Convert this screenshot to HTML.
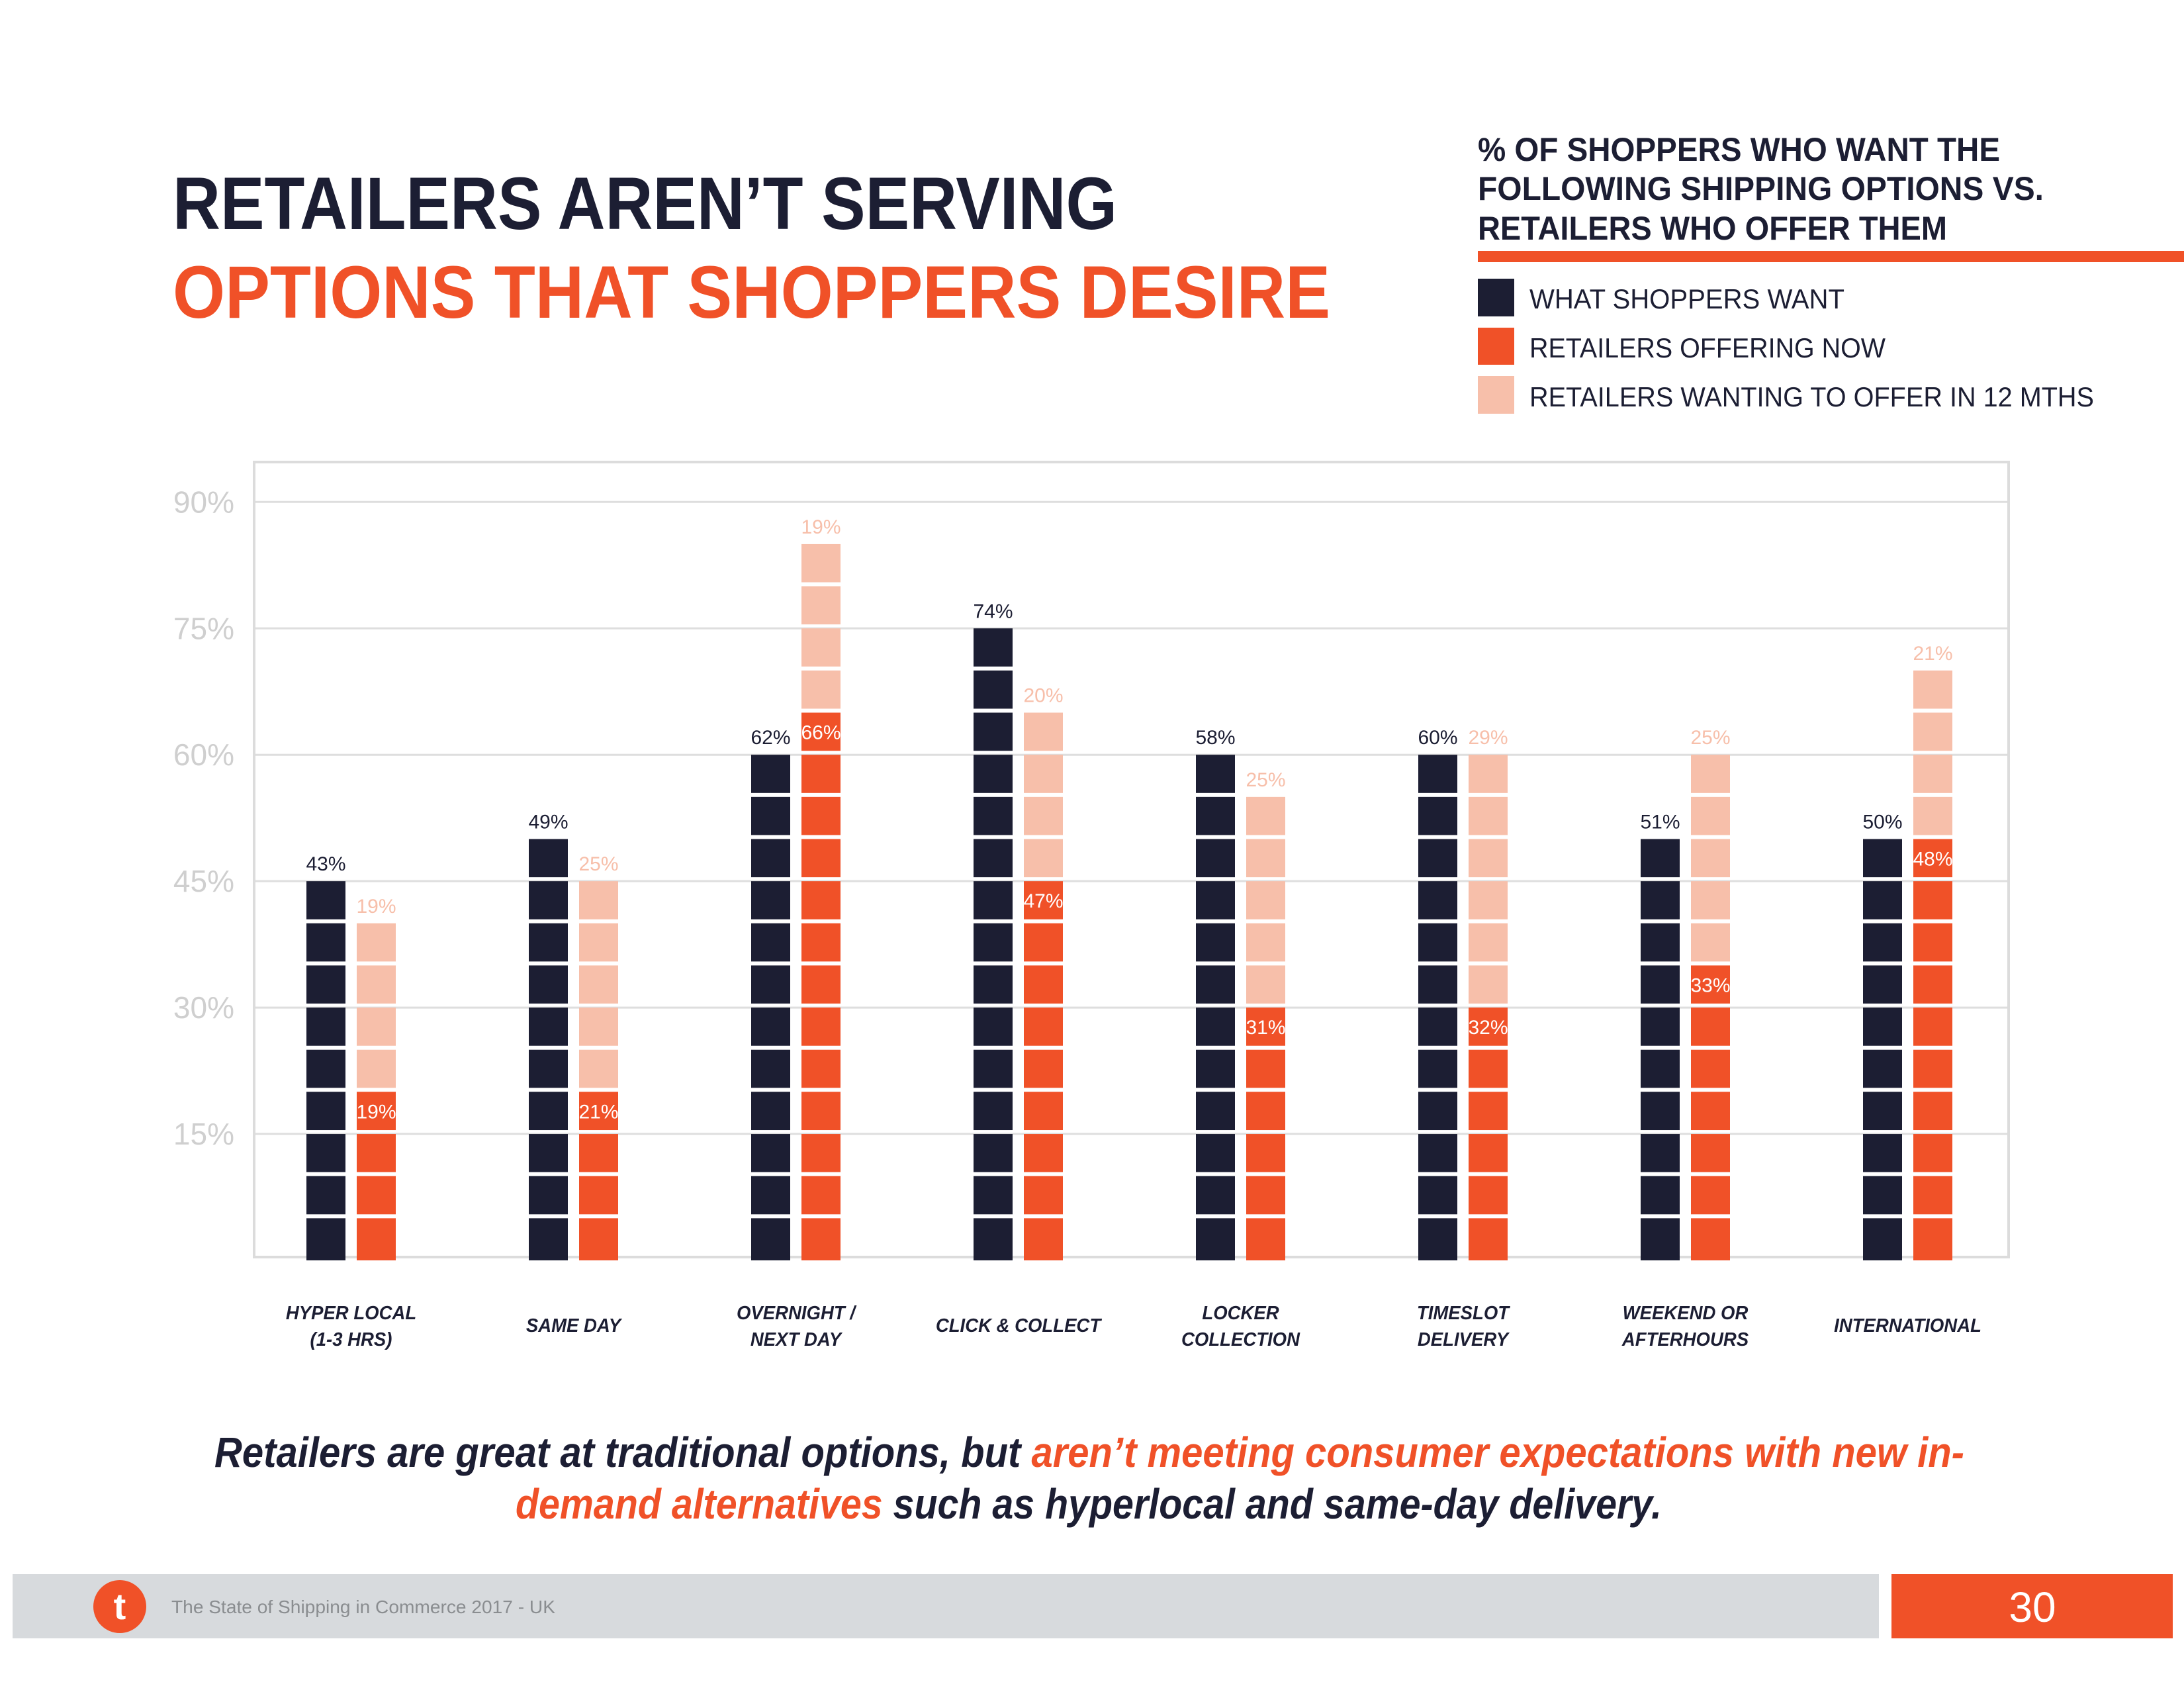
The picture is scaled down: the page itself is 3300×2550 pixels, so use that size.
<!DOCTYPE html>
<html><head><meta charset="utf-8"><style>
html,body{margin:0;padding:0;background:#fff;}
svg{display:block;}
text{font-family:"Liberation Sans",sans-serif;}
</style></head><body>
<svg id="s" width="3300" height="2550" viewBox="0 0 3300 2550" xmlns="http://www.w3.org/2000/svg">
<text x="261" y="346" font-size="112" font-weight="bold" fill="#1c1e33" textLength="1427" lengthAdjust="spacingAndGlyphs">RETAILERS AREN’T SERVING</text>
<text x="261" y="480" font-size="112" font-weight="bold" fill="#f05128" textLength="1749" lengthAdjust="spacingAndGlyphs">OPTIONS THAT SHOPPERS DESIRE</text>
<g>
<text x="2233" y="243" font-size="50" font-weight="bold" fill="#1c1e33" textLength="789" lengthAdjust="spacingAndGlyphs">% OF SHOPPERS WHO WANT THE</text>
<text x="2233" y="302" font-size="50" font-weight="bold" fill="#1c1e33" textLength="855" lengthAdjust="spacingAndGlyphs">FOLLOWING SHIPPING OPTIONS VS.</text>
<text x="2233" y="362" font-size="50" font-weight="bold" fill="#1c1e33" textLength="709" lengthAdjust="spacingAndGlyphs">RETAILERS WHO OFFER THEM</text>
<rect x="2233" y="379" width="1067" height="17" fill="#f05128"/>
<rect x="2233" y="421" width="55" height="57" fill="#1c1e33"/>
<text x="2311" y="466" font-size="42" fill="#1c1e33" textLength="476" lengthAdjust="spacingAndGlyphs">WHAT SHOPPERS WANT</text>
<rect x="2233" y="495" width="55" height="56" fill="#f05128"/>
<text x="2311" y="540" font-size="42" fill="#1c1e33" textLength="538" lengthAdjust="spacingAndGlyphs">RETAILERS OFFERING NOW</text>
<rect x="2233" y="568" width="55" height="57" fill="#f7bfaa"/>
<text x="2311" y="614" font-size="42" fill="#1c1e33" textLength="853" lengthAdjust="spacingAndGlyphs">RETAILERS WANTING TO OFFER IN 12 MTHS</text>
</g>
<rect x="384" y="698" width="2651" height="1201" fill="none" stroke="#dcdcdc" stroke-width="4"/>
<g id="chart"></g>
<text x="1646" y="2216" font-size="64" font-weight="bold" font-style="italic" text-anchor="middle" fill="#1c1e33" textLength="2644" lengthAdjust="spacingAndGlyphs">Retailers are great at traditional options, but <tspan fill="#f05128">aren’t meeting consumer expectations with new in-</tspan></text>
<text x="1645" y="2294" font-size="64" font-weight="bold" font-style="italic" text-anchor="middle" fill="#1c1e33" textLength="1732" lengthAdjust="spacingAndGlyphs"><tspan fill="#f05128">demand alternatives</tspan> such as hyperlocal and same-day delivery.</text>
<rect x="19" y="2378" width="2820" height="97" fill="#d7dadd"/>
<circle cx="181" cy="2427" r="40" fill="#f05128"/>
<text x="181" y="2446" font-size="56" font-weight="bold" fill="#fff" text-anchor="middle">t</text>
<text x="259" y="2437" font-size="28" fill="#8a8d90" textLength="580" lengthAdjust="spacingAndGlyphs">The State of Shipping in Commerce 2017 - UK</text>
<rect x="2858" y="2378" width="425" height="97" fill="#f05128"/>
<text x="3071" y="2450" font-size="64" fill="#fff" text-anchor="middle">30</text>
</svg>
<script>
const categories = [["HYPER LOCAL","(1-3 HRS)"],["SAME DAY"],["OVERNIGHT /","NEXT DAY"],["CLICK & COLLECT"],["LOCKER","COLLECTION"],["TIMESLOT","DELIVERY"],["WEEKEND OR","AFTERHOURS"],["INTERNATIONAL"]];
const wantValues = [43,49,62,74,58,60,51,50];
const offeringValues = [19,21,66,47,31,32,33,48];
const plannedValues = [19,25,19,20,25,29,25,21];
const yTicks = [15,30,45,60,75,90];

const NS="http://www.w3.org/2000/svg";
const g=document.getElementById('chart');
const y0=1904, pxPer=12.73;
const yS=v=>y0-v*pxPer;
const groupX=i=>463+i*336;
const BW=59, OFF=76, GAP=6;
function mk(tag,attrs,parent){const e=document.createElementNS(NS,tag);for(const k in attrs)e.setAttribute(k,attrs[k]);(parent||g).appendChild(e);return e;}

yTicks.forEach(t=>{
  const l=mk('line',{x1:386,x2:3033,y1:yS(t),y2:yS(t),stroke:'#dedede','stroke-width':3});
  
  
  const tx=mk('text',{x:354,y:yS(t)+16,'font-size':46,fill:'#cfcfcf','text-anchor':'end'});
  tx.textContent=t+'%';
  
  
});

function segs(x,fromSeg,toSeg,color,name){
  for(let s=fromSeg;s<toSeg;s++){
    const top=yS((s+1)*5), bot=yS(s*5)-(s===0?0:GAP);
    const r=mk('rect',{x:x,y:top,width:BW,height:bot-top,fill:color});
    
    
  }
}
function label(x,y,txt,color,name){
  const t=mk('text',{x:x,y:y,'font-size':30,fill:color,'text-anchor':'middle'});
  t.textContent=txt;
  
  
}

categories.forEach((c,i)=>{
  const x=groupX(i), xo=x+OFF;
  const wS=Math.round(wantValues[i]/5);
  const oS=Math.round(offeringValues[i]/5);
  const pS=Math.round((offeringValues[i]+plannedValues[i])/5);
  segs(x,0,wS,'#1c1e33','bar-want-'+i);
  segs(xo,0,oS,'#f05128','bar-offering-'+i);
  segs(xo,oS,pS,'#f7bfaa','bar-planned-'+i);
  label(x+BW/2,yS(wS*5)-16,wantValues[i]+'%','#1c1e33','label-want-'+i);
  label(xo+BW/2,yS(oS*5)+40,offeringValues[i]+'%','#ffffff','label-offering-'+i);
  label(xo+BW/2,yS(pS*5)-16,plannedValues[i]+'%','#f7bfaa','label-planned-'+i);
  const cx=x+(BW+OFF)/2;
  const lines=c.length===1?[2012]:[1993,2033];
  c.forEach((ln,k)=>{
    const t=mk('text',{x:cx,y:lines[k],'font-size':29,'font-weight':'bold','font-style':'italic',fill:'#1c1e33','text-anchor':'middle',transform:'translate('+cx+' 0) scale(0.95 1) translate('+(-cx)+' 0)'});
    t.textContent=ln;
    
    
  });
});
</script>
</body></html>
